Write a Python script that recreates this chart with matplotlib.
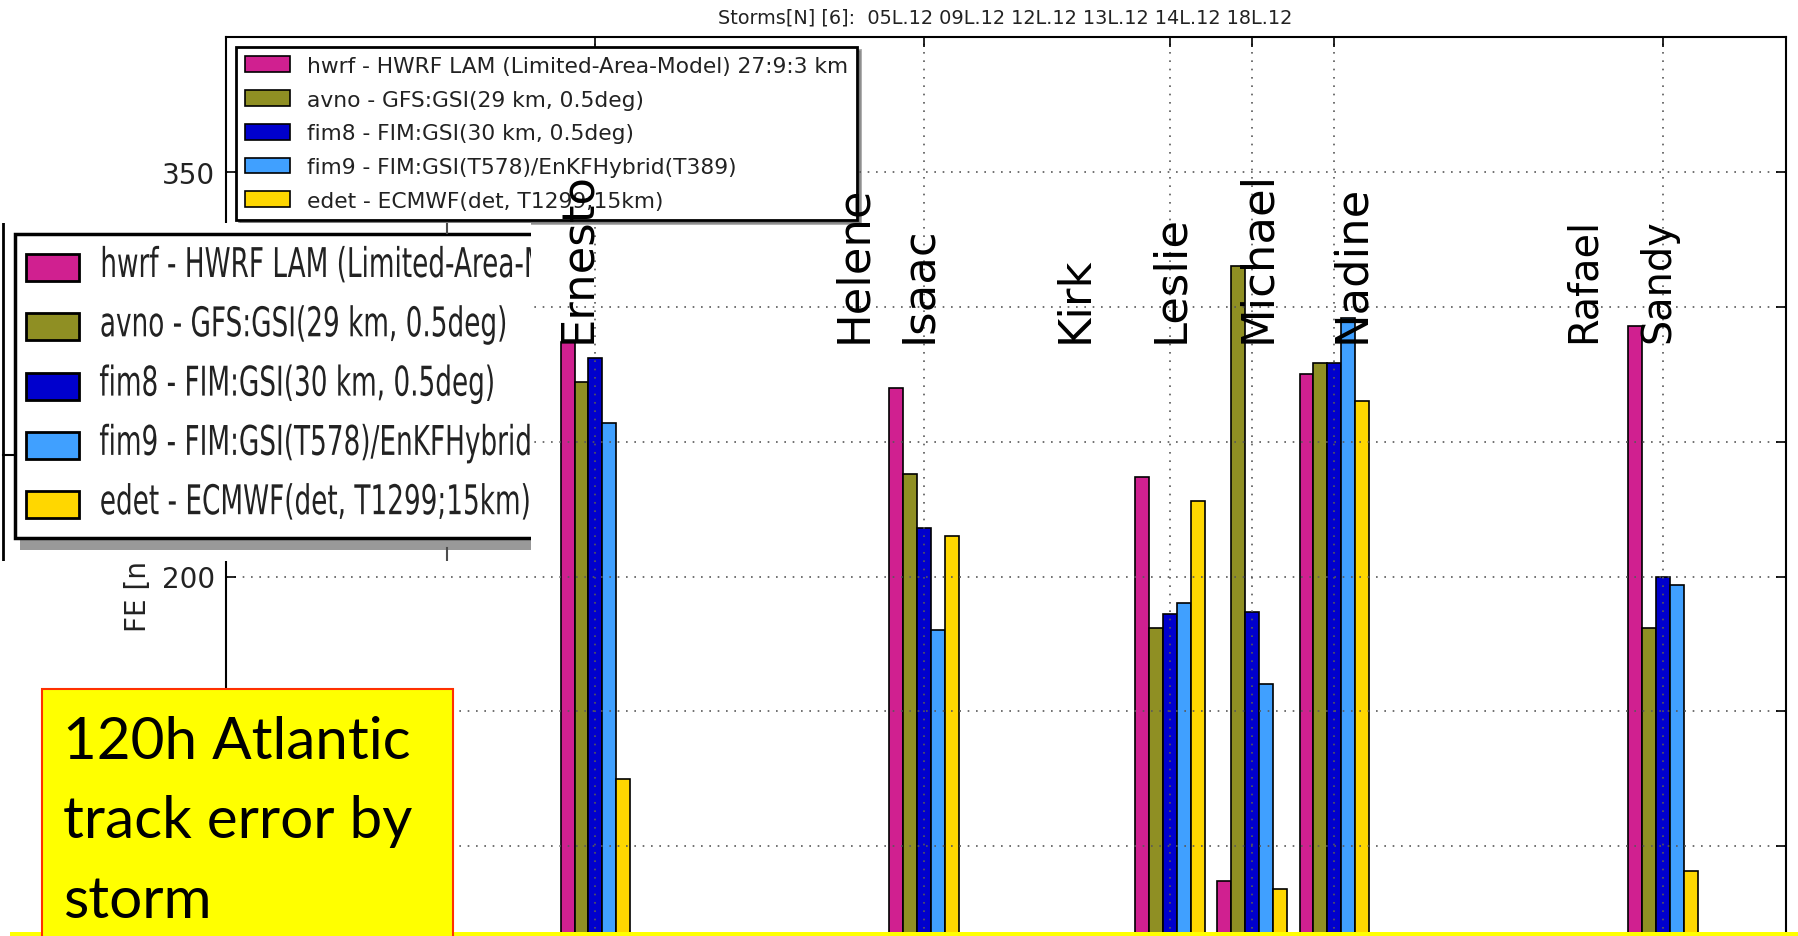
import matplotlib
matplotlib.use('Agg')
import matplotlib.pyplot as plt
import matplotlib.patches as mpatches
import matplotlib.patheffects as pe
from matplotlib.transforms import Affine2D
import numpy as np

# --- data (120h track error, nm) ---------------------------------------
storm_nums = [5, 9, 12, 13, 14, 18]          # 05L 09L 12L 13L 14L 18L
hwrf = [287, 270, 237, 87, 275, 293]
avno = [272, 238, 181, 315, 279, 181]
fim8 = [281, 218, 186, 187, 279, 200]
fim9 = [257, 180, 190, 160, 296, 197]
edet = [125, 215, 228, 84, 265, 91]

model_labels = [
    'hwrf - HWRF LAM (Limited-Area-Model) 27:9:3 km',
    'avno - GFS:GSI(29 km, 0.5deg)',
    'fim8 - FIM:GSI(30 km, 0.5deg)',
    'fim9 - FIM:GSI(T578)/EnKFHybrid(T389)',
    'edet - ECMWF(det, T1299;15km)',
]
model_colors = ['#d02090', '#8f8f23', '#0000cd', '#40a0ff', '#ffd700']

# storm names written over the chart
storm_names = ['Ernesto', 'Helene', 'Isaac', 'Kirk', 'Leslie', 'Michael', 'Nadine', 'Rafael', 'Sandy']
name_x = [4.78, 8.14, 8.94, 10.84, 12.01, 13.06, 14.21, 17.04, 17.94]
name_size = [32.3, 32.3, 32.3, 32.3, 32.3, 32.3, 32.3, 28.6, 28.6]

# only 200 and 350 stay visible, the others sit under the pasted boxes
y_ticks = [0, 50, 100, 150, 200, 250, 300, 350]
y_tick_labels = ['', '', '', '', '200', '', '', '350']
title = 'Storms[N] [6]:  05L.12 09L.12 12L.12 13L.12 14L.12 18L.12'
note = '120h Atlantic\ntrack error by\nstorm'


class Squeeze(pe.AbstractPathEffect):
    """squash text horizontally, like the stretched screenshot"""
    def __init__(self, sx, anchor='left'):
        super().__init__()
        self.sx = sx
        self.anchor = anchor

    def draw_path(self, renderer, gc, tpath, affine, rgbFace=None):
        ext = tpath.get_extents(affine)
        x0 = ext.x0 if self.anchor == 'left' else 0.5 * (ext.x0 + ext.x1)
        squash = Affine2D().translate(-x0, 0).scale(self.sx, 1).translate(x0, 0)
        renderer.draw_path(gc, tpath, affine + squash, rgbFace)


W, H = 1799, 937
fig = plt.figure(figsize=(W / 100, H / 100), dpi=100)


def fx(px):
    return px / W


def fy(py):
    return 1 - py / H


# main chart (bottom part runs off the picture)
ax = fig.add_axes([fx(226), fy(1117), fx(1786) - fx(226), (1117 - 38) / H])
series = [hwrf, avno, fim8, fim9, edet]
width = 0.17
x = np.array(storm_nums, dtype=float)
for i, (vals, col, lab) in enumerate(zip(series, model_colors, model_labels)):
    ax.bar(x - 2.5 * width + i * width, vals, width, align='edge', color=col,
           edgecolor='k', linewidth=1.2, label=lab)

ax.set_xlim(0.5, 19.5)
ax.set_ylim(0, 400)
ax.set_xticks(storm_nums)
ax.set_yticks(y_ticks)
ax.set_yticklabels(y_tick_labels)
ax.tick_params(direction='in', length=7, width=1.2, top=True, right=True,
               labelsize=20, pad=8, labelcolor='#222222')
ax.tick_params(axis='x', labelbottom=False)
ax.grid(True, linestyle=(0, (1, 4)), color='0.35', linewidth=1.2)
for s in ax.spines.values():
    s.set_linewidth(1.5)
ax.set_ylabel('FE [nm]', fontsize=20, labelpad=7, color='#222222')

leg = ax.legend(loc='upper left', bbox_to_anchor=(fx(236), fy(48)),
                bbox_transform=fig.transFigure, fontsize=15.7, fancybox=False,
                shadow=True, borderaxespad=0, borderpad=0.41, labelspacing=0.63,
                handlelength=2.06, handleheight=0.73, handletextpad=0.78,
                framealpha=1)
leg.get_frame().set_edgecolor('k')
leg.get_frame().set_linewidth(2)
for t in leg.get_texts():
    t.set_color('#222222')

for name, nx, ns in zip(storm_names, name_x, name_size):
    ax.text(nx, 287, name, rotation=90, ha='center', va='bottom', fontsize=ns,
            color='k', zorder=6)

fig.text(fx(1005), fy(18), title, ha='center', va='center', fontsize=13.9,
         color='#222222')

# pasted, enlarged copy of the legend (cut on the right)
ov = fig.add_axes([0, fy(562), fx(531), (562 - 224) / H], zorder=10)
ov.set_xlim(0, 531)
ov.set_ylim(562, 224)
ov.axis('off')
ov.add_patch(mpatches.Rectangle((0, 224), 531, 338, facecolor='white', edgecolor='none'))
ov.plot([3, 3], [224, 562], color='k', lw=2)
ov.plot([3, 15], [456, 456], color='k', lw=1.5)
ov.plot([447, 447], [224, 234], color='0.3', lw=1.5)
ov.plot([447, 447], [549, 562], color='0.3', lw=1.5)
ov.add_patch(mpatches.Rectangle((20, 245), 700, 306, facecolor='0.6', edgecolor='none'))
ov.add_patch(mpatches.Rectangle((15, 235), 700, 304, facecolor='white', edgecolor='k', lw=2.5))
for i, (lab, col) in enumerate(zip(model_labels, model_colors)):
    cy = 268.5 + i * 59.3
    ov.add_patch(mpatches.Rectangle((26, cy - 13.5), 53, 27, facecolor=col,
                                    edgecolor='k', lw=2))
    ov.text(99, cy + 9.5, lab, fontsize=29.5, va='baseline', color='#222222',
            clip_on=True, path_effects=[Squeeze(0.642)])

# yellow note box and strip at the bottom
fig.add_artist(mpatches.Rectangle((fx(10), 0), 1, 4.5 / H, transform=fig.transFigure,
                                  facecolor='#ffff00', edgecolor='none', zorder=19))
fig.add_artist(mpatches.Rectangle((fx(42), fy(950)), fx(453) - fx(42), (950 - 690) / H,
                                  transform=fig.transFigure, facecolor='#ffff00',
                                  edgecolor='#ff3000', lw=1.5, zorder=20))
fig.text(fx(63), fy(918), note, fontsize=42, family='Lato', va='baseline',
         linespacing=1.62, color='k', zorder=21)

fig.savefig('out.png', dpi=100, facecolor='white')
